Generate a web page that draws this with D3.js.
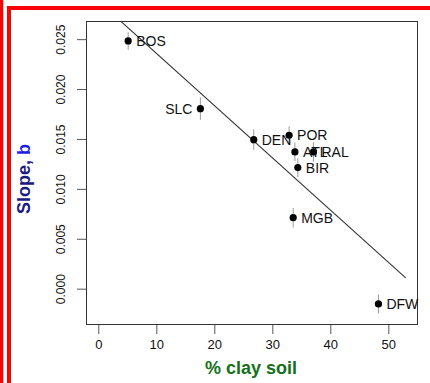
<!DOCTYPE html>
<html>
<head>
<meta charset="utf-8">
<script src="https://cdn.jsdelivr.net/npm/d3@7"></script>
<style>
  html, body { margin: 0; padding: 0; background: #fff; }
  svg { display: block; }
</style>
</head>
<body>
<div id="chart"></div>
<script>
// Sites, their soil clay content and fitted slope with standard error
const sites   = ["BOS", "SLC", "DEN", "POR", "ATL", "RAL", "BIR", "MGB", "DFW"];
const clayPct = [5.15, 17.6, 26.8, 32.9, 33.9, 37.1, 34.4, 33.6, 48.3];
const slopeB  = [0.02482, 0.01804, 0.01493, 0.01537, 0.01370, 0.01370, 0.01213, 0.00711, -0.00153];
const slopeSE = [0.00088, 0.00113, 0.00103, 0.00090, 0.00093, 0.00098, 0.00095, 0.00097, 0.00095];
const labelSide = ["right", "left", "right", "right", "right", "right", "right", "right", "right"];

// Least-squares fit line, endpoints
const fitX = [0, 53];
const fitY = [0.02882, 0.00109];

const xTicks = [0, 10, 20, 30, 40, 50];
const yTicks = [0.000, 0.005, 0.010, 0.015, 0.020, 0.025];

const W = 430, H = 383;
const plot = { left: 86, top: 21, right: 418, bottom: 325 };

const svg = d3.select("#chart").append("svg")
  .attr("width", W).attr("height", H);

// red frame
svg.append("rect").attr("x", 0).attr("y", 0).attr("width", 3.3).attr("height", H).attr("fill", "#ff0000");
svg.append("rect").attr("x", 7).attr("y", 6).attr("width", 4).attr("height", H - 6).attr("fill", "#ff0000");
svg.append("rect").attr("x", 7).attr("y", 6).attr("width", W - 7).attr("height", 4).attr("fill", "#ff0000");

const x = d3.scaleLinear().domain([-2.12, 55.12]).range([plot.left, plot.right]);
const y = d3.scaleLinear().domain([-0.00364, 0.02682]).range([plot.bottom, plot.top]);

svg.append("defs").append("clipPath").attr("id", "plotclip")
  .append("rect")
  .attr("x", plot.left).attr("y", plot.top)
  .attr("width", plot.right - plot.left).attr("height", plot.bottom - plot.top);

// axes (ticks only; the box supplies the axis lines)
const xAxis = svg.append("g")
  .attr("transform", `translate(0,${plot.bottom})`)
  .call(d3.axisBottom(x).tickValues(xTicks).tickSize(9).tickSizeOuter(0).tickPadding(6).tickFormat(d3.format("d")));
xAxis.select(".domain").remove();
xAxis.selectAll(".tick line").attr("stroke", "#555");
xAxis.selectAll(".tick text")
  .attr("font-family", "Liberation Sans, Arial, sans-serif")
  .attr("font-size", 13).attr("fill", "#111");

const yAxis = svg.append("g")
  .attr("transform", `translate(${plot.left},0)`)
  .call(d3.axisLeft(y).tickValues(yTicks).tickSize(9).tickSizeOuter(0).tickFormat(d3.format(".3f")));
yAxis.select(".domain").remove();
yAxis.selectAll(".tick line").attr("stroke", "#555");
yAxis.selectAll(".tick text")
  .attr("font-family", "Liberation Sans, Arial, sans-serif")
  .attr("font-size", 12).attr("fill", "#111")
  .attr("text-anchor", "middle")
  .attr("dy", 0)
  .attr("transform", "rotate(-90)")
  .attr("x", 0).attr("y", -21);

// plot box
svg.append("rect")
  .attr("x", plot.left + 0.5).attr("y", plot.top + 0.5)
  .attr("width", plot.right - plot.left - 1).attr("height", plot.bottom - plot.top - 1)
  .attr("fill", "none").attr("stroke", "#333").attr("stroke-width", 1);

const inner = svg.append("g").attr("clip-path", "url(#plotclip)");

// regression line
inner.append("line")
  .attr("x1", x(fitX[0])).attr("y1", y(fitY[0]))
  .attr("x2", x(fitX[1])).attr("y2", y(fitY[1]))
  .attr("stroke", "#333").attr("stroke-width", 1.1);

const pts = sites.map((s, i) => ({ s, cx: clayPct[i], b: slopeB[i], se: slopeSE[i], side: labelSide[i] }));

// error bars
inner.selectAll("line.err").data(pts).enter().append("line")
  .attr("class", "err")
  .attr("x1", d => x(d.cx)).attr("x2", d => x(d.cx))
  .attr("y1", d => y(d.b - d.se)).attr("y2", d => y(d.b + d.se))
  .attr("stroke", "#9a9a9a").attr("stroke-width", 1);

// points
inner.selectAll("circle").data(pts).enter().append("circle")
  .attr("cx", d => x(d.cx)).attr("cy", d => y(d.b)).attr("r", 3.6)
  .attr("fill", "#000");

// site labels
svg.selectAll("text.site").data(pts).enter().append("text")
  .attr("class", "site")
  .attr("x", d => d.side === "left" ? x(d.cx) - 8 : x(d.cx) + 8)
  .attr("y", d => y(d.b) + 5)
  .attr("text-anchor", d => d.side === "left" ? "end" : "start")
  .attr("font-family", "Liberation Sans, Arial, sans-serif")
  .attr("font-size", 14).attr("fill", "#111")
  .text(d => d.s);

// axis titles
svg.append("text")
  .attr("x", 251).attr("y", 374)
  .attr("text-anchor", "middle")
  .attr("font-family", "Liberation Sans, Arial, sans-serif")
  .attr("font-weight", "bold").attr("font-size", 18)
  .attr("fill", "#16701a")
  .text("% clay soil");

const yt = svg.append("text")
  .attr("transform", "translate(30,179) rotate(-90)")
  .attr("text-anchor", "middle")
  .attr("font-family", "Liberation Sans, Arial, sans-serif")
  .attr("font-weight", "bold").attr("font-size", 18);
yt.append("tspan").attr("fill", "#1a1a80").text("Slope, ");
yt.append("tspan").attr("fill", "#1f1fe0").text("b");
</script>
</body>
</html>
